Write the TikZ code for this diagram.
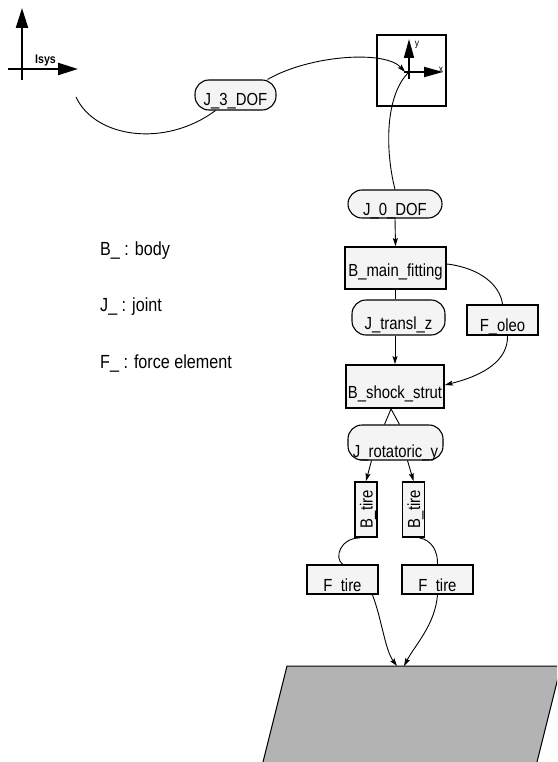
\documentclass[tikz,border=0pt]{standalone}
\usepackage{fontspec}
\setmainfont{Liberation Sans}[FakeStretch=0.85]
\usepackage{tikz}
\usetikzlibrary{arrows.meta, positioning, calc}
\definecolor{mbfill}{RGB}{244,244,244}
\definecolor{mbground}{RGB}{179,179,179}
\definecolor{mbdark}{RGB}{0,0,0}

\tikzset{
  body/.style={draw=mbdark, line width=1.8pt, fill=mbfill, inner sep=0pt,
    font=\fontsize{17.5}{19}\selectfont, text height=17pt, text depth=0pt},
  force/.style={body, text height=23pt},
  joint/.style={draw=mbdark, line width=1.1pt, fill=mbfill, rounded corners=14pt,
    inner sep=0pt, font=\fontsize{17.5}{19}\selectfont, text depth=0pt},
  legend/.style={font=\fontsize{19}{21}\selectfont, anchor=base west, inner sep=0pt},
  link/.style={draw=mbdark, line width=0.9pt},
  linkarrow/.style={link, -{Stealth[length=8pt, width=5pt, inset=1.5pt]}},
  axisarrow/.style={line width=2.2pt, -{Triangle[length=20pt, width=12pt]}},
  frameaxis/.style={line width=1.8pt, -{Triangle[length=19pt, width=10pt]}}
}

\begin{document}
\begin{tikzpicture}[x=1pt, y=-1pt]
\useasboundingbox (0,0) rectangle (557,762);

% ---- inertial system ----
\coordinate (isys) at (22,69);
\draw[axisarrow] ($(isys)+(0,11)$) -- ($(isys)+(0,-61)$);
\draw[axisarrow] ($(isys)+(-14,0)$) -- ($(isys)+(56,0)$);
\node[font=\bfseries\fontsize{12.5}{14}\selectfont, anchor=base west, inner sep=0pt] (isyslbl) at (35,64) {Isys};
\coordinate (isysend) at (76,97);

% ---- marker frame ----
\node[draw, line width=2pt, fill=white, minimum width=69pt, minimum height=71pt, inner sep=0pt] (frame) at (411.5,70.5) {};
\coordinate (frameorigin) at (409,72);
\draw[frameaxis] ($(frameorigin)+(0,7)$) -- ($(frameorigin)+(0,-33)$);
\draw[frameaxis] ($(frameorigin)+(-5,0)$) -- ($(frameorigin)+(34,0)$);
\node[font=\fontsize{10}{11}\selectfont, inner sep=0pt] (ylbl) at (417,45) {y};
\node[font=\fontsize{10}{11}\selectfont, inner sep=0pt] (xlbl) at (441,70) {x};

% ---- legend ----
\node[legend] (legbody) at (100,255) {B\_ : body};
\node[legend] (legjoint) at (100,311.5) {J\_ : joint};
\node[legend] (legforce) at (100,368) {F\_ : force element};

% ---- ground ----
\begin{scope}
\clip (0,0) rectangle (557,762);
\draw[fill=mbground, line width=1pt] (287,666) -- (561,666) -- (532,782) -- (258,782) -- cycle;
\end{scope}
\coordinate (groundtop) at (400,666);

% ---- bodies, joints, forces ----
\node[joint, minimum width=81pt, minimum height=30pt, text height=22pt] (j3dof) at (235.5,95) {J\_3\_DOF};
\node[joint, minimum width=94pt, minimum height=28pt, text height=23pt] (j0dof) at (395,204) {J\_0\_DOF};
\node[body, minimum width=101pt, minimum height=42pt] (bmain) at (395.5,268) {B\_main\_fitting};
\node[joint, minimum width=93pt, minimum height=35pt, text height=23pt] (jtransl) at (398.5,317.5) {J\_transl\_z};
\node[force, minimum width=71pt, minimum height=30pt] (foleo) at (502.5,320) {F\_oleo};
\node[force, minimum width=98pt, minimum height=43pt] (bshock) at (395,386.5) {B\_shock\_strut};
\node[joint, minimum width=95pt, minimum height=35pt, text height=30pt] (jrot) at (395.5,442.5) {J\_rotatoric\_y};
\node[body, rotate=90, minimum width=55pt, minimum height=22pt, text height=13pt] (btireleft) at (366,509.5) {B\_tire};
\node[body, rotate=90, minimum width=55pt, minimum height=22pt, text height=13pt] (btireright) at (413.5,509.5) {B\_tire};
\node[force, minimum width=71pt, minimum height=29pt] (ftireleft) at (342.5,579.5) {F\_tire};
\node[force, minimum width=71pt, minimum height=29pt] (ftireright) at (437.5,579.5) {F\_tire};

% ---- connectors ----
\draw[link] (isysend) .. controls (95,138) and (165,148) .. ([xshift=-20pt]j3dof.south);
\draw[linkarrow] ([xshift=32pt]j3dof.north) .. controls (310,55) and (385,50) .. ([xshift=-4pt]frameorigin);
\draw[link] (j0dof.north) .. controls (385,150) and (385,95) .. (frameorigin);
\draw[linkarrow] (j0dof.south) -- (bmain.north);
\draw[link] (bmain.south) -- (bmain.south |- jtransl.north);
\draw[linkarrow] (bshock.north |- jtransl.south) -- (bshock.north);
\draw[link] ([yshift=4pt]bmain.east) .. controls (480,268) and (500,285) .. (foleo.north);
\draw[linkarrow] ([xshift=5pt]foleo.south) .. controls (508,360) and (485,375) .. ([yshift=1.5pt]bshock.east);
\draw[link] ([xshift=-11pt]jrot.north) -- ([xshift=-4pt]bshock.south);
\draw[link] ([xshift=4pt]jrot.north) -- ([xshift=-4pt]bshock.south);
\draw[linkarrow] ([xshift=-24pt]jrot.south) -- (btireleft.east);
\draw[linkarrow] ([xshift=12pt]jrot.south) -- (btireright.east);
\draw[link] ([xshift=-6pt]btireleft.west) .. controls (340,538) and (334,558) .. (ftireleft.north);
\draw[link] ([xshift=6pt]btireright.west) .. controls (432,540) and (438,552) .. (ftireright.north);
\draw[linkarrow] ([xshift=30pt]ftireleft.south) .. controls (382,620) and (385,650) .. ([xshift=-3pt]groundtop);
\draw[linkarrow] (ftireright.south) .. controls (435,625) and (415,645) .. ([xshift=4pt]groundtop);
\end{tikzpicture}
\end{document}
